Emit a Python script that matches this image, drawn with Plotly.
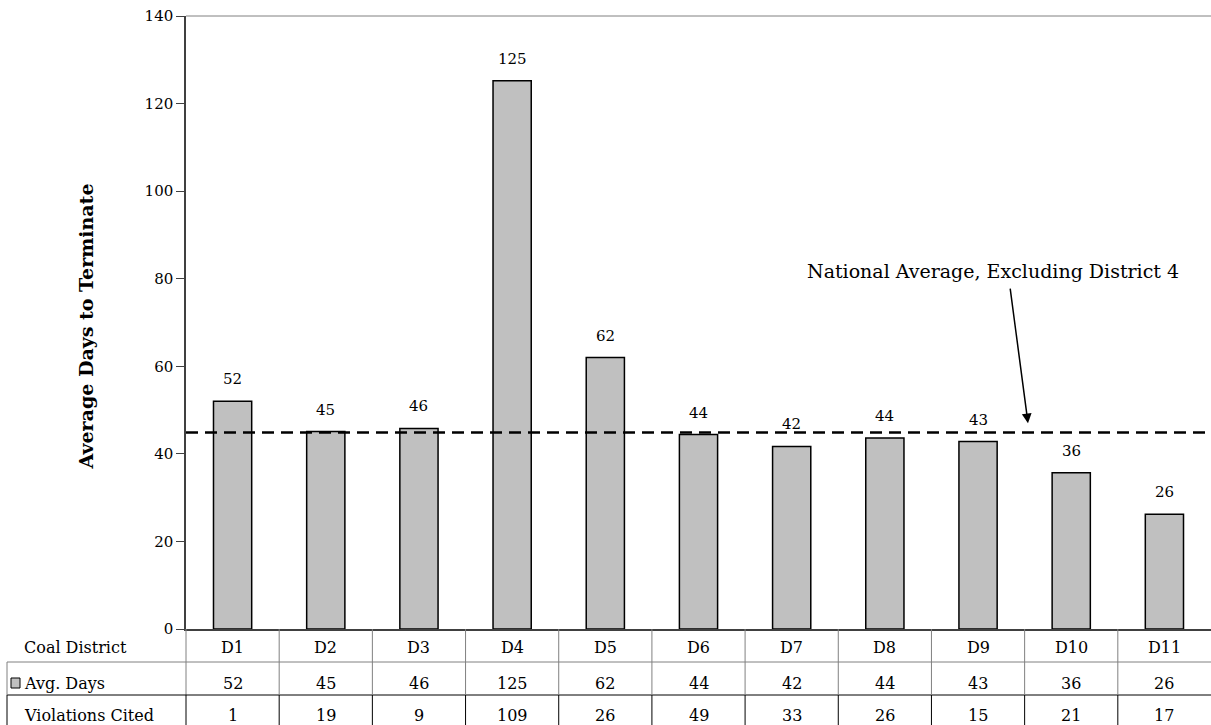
import plotly.graph_objects as go

# ---- data ----
districts = ["D1", "D2", "D3", "D4", "D5", "D6", "D7", "D8", "D9", "D10", "D11"]
avg_days = [52.0, 45.1, 45.8, 125.2, 62.0, 44.4, 41.7, 43.6, 42.8, 35.7, 26.2]
violations_cited = [1, 19, 9, 109, 26, 49, 33, 26, 15, 21, 17]
national_avg_excl_d4 = 44.9
y_ticks = [0, 20, 40, 60, 80, 100, 120, 140]

FONT = "DejaVu Serif"
BAR_COLOR = "#C0C0C0"
GRID_GREY = "#808080"

# layout geometry (pixels)
ML, MR, MT, MB = 186, 0, 16, 96
W_FIG, H_FIG = 1211, 725
PW = W_FIG - ML - MR
PH = H_FIG - MT - MB


def pyb(px_below):
    """paper y for a pixel offset below the plot bottom"""
    return -px_below / PH


def pxl(px_x):
    """paper x for an absolute pixel x"""
    return (px_x - ML) / PW


fig = go.Figure()
fig.add_trace(go.Bar(
    x=districts, y=avg_days,
    marker=dict(color=BAR_COLOR, line=dict(color="black", width=1.5)),
    width=0.41, hoverinfo="x+y", showlegend=False,
))

shapes = []
annotations = []

# top border of plot area
shapes.append(dict(type="line", xref="paper", yref="paper", x0=0, x1=1, y0=1, y1=1,
                   line=dict(color=GRID_GREY, width=1)))
# national average dashed line
shapes.append(dict(type="line", xref="paper", yref="y", x0=0, x1=1,
                   y0=national_avg_excl_d4, y1=national_avg_excl_d4,
                   line=dict(color="black", width=2.5, dash="12px,7px")))
# y-axis extended into table
shapes.append(dict(type="line", xref="paper", yref="paper", x0=0, x1=0, y0=0, y1=pyb(66),
                   line=dict(color=GRID_GREY, width=1)))
shapes.append(dict(type="line", xref="paper", yref="paper", x0=0, x1=0, y0=pyb(66), y1=pyb(110),
                   line=dict(color="black", width=1)))
# table horizontal lines
shapes.append(dict(type="line", xref="paper", yref="paper", x0=pxl(7), x1=1, y0=pyb(33), y1=pyb(33),
                   line=dict(color=GRID_GREY, width=1)))
shapes.append(dict(type="line", xref="paper", yref="paper", x0=pxl(7), x1=1, y0=pyb(66), y1=pyb(66),
                   line=dict(color="black", width=1)))
# table left border
shapes.append(dict(type="line", xref="paper", yref="paper", x0=pxl(7), x1=pxl(7), y0=pyb(33), y1=pyb(66),
                   line=dict(color=GRID_GREY, width=1)))
shapes.append(dict(type="line", xref="paper", yref="paper", x0=pxl(7), x1=pxl(7), y0=pyb(66), y1=pyb(110),
                   line=dict(color="black", width=1)))
# column separators
for i in range(len(districts) - 1):
    xs = i + 0.5
    shapes.append(dict(type="line", xref="x", yref="paper", x0=xs, x1=xs, y0=0, y1=pyb(66),
                       line=dict(color=GRID_GREY, width=1)))
    shapes.append(dict(type="line", xref="x", yref="paper", x0=xs, x1=xs, y0=pyb(66), y1=pyb(110),
                       line=dict(color="black", width=1)))
# legend key square
shapes.append(dict(type="rect", xref="paper", yref="paper", x0=pxl(11), x1=pxl(20),
                   y0=pyb(49), y1=pyb(59), fillcolor=BAR_COLOR, line=dict(color="black", width=1)))

# bar value labels
for d, v in zip(districts, avg_days):
    annotations.append(dict(x=d, y=v, xref="x", yref="y", text=str(round(v)), showarrow=False,
                            yanchor="middle", yshift=22, font=dict(family=FONT, size=15, color="black")))

# table row labels
row_font = dict(family=FONT, size=16, color="black")
annotations.append(dict(x=pxl(22), y=pyb(18), xref="paper", yref="paper", text="Coal District",
                        showarrow=False, xanchor="left", yanchor="middle", font=row_font))
annotations.append(dict(x=pxl(22), y=pyb(54), xref="paper", yref="paper", text="Avg. Days",
                        showarrow=False, xanchor="left", yanchor="middle", font=row_font))
annotations.append(dict(x=pxl(22), y=pyb(86), xref="paper", yref="paper", text="Violations Cited",
                        showarrow=False, xanchor="left", yanchor="middle", font=row_font))
# table cells
for d, v, vc in zip(districts, avg_days, violations_cited):
    annotations.append(dict(x=d, y=pyb(18), xref="x", yref="paper", text=d, showarrow=False,
                            yanchor="middle", font=row_font))
    annotations.append(dict(x=d, y=pyb(54), xref="x", yref="paper", text=str(round(v)), showarrow=False,
                            yanchor="middle", font=row_font))
    annotations.append(dict(x=d, y=pyb(86), xref="x", yref="paper", text=str(vc), showarrow=False,
                            yanchor="middle", font=row_font))

# y axis title
annotations.append(dict(x=pxl(85), y=0.5, xref="paper", yref="paper", text="<b>Average Days to Terminate</b>",
                        showarrow=False, textangle=-90, xanchor="center", yanchor="middle", yshift=-4,
                        font=dict(family=FONT, size=19, color="black")))

# national average callout
annotations.append(dict(x=pxl(993), y=81.7, xref="paper", yref="y",
                        text="National Average, Excluding District 4", showarrow=False,
                        xanchor="center", yanchor="middle", font=dict(family=FONT, size=19, color="black")))
annotations.append(dict(x=pxl(1028), y=47.0, xref="paper", yref="y", text="", showarrow=True,
                        ax=-18, ay=-136, arrowhead=2, arrowsize=1.3, arrowwidth=1.5, arrowcolor="black"))

fig.update_layout(
    width=W_FIG, height=H_FIG,
    margin=dict(l=ML, r=MR, t=MT, b=MB, pad=0),
    paper_bgcolor="white", plot_bgcolor="white",
    font=dict(family=FONT, size=14, color="black"),
    bargap=0.59,
    shapes=shapes, annotations=annotations,
    xaxis=dict(range=[-0.5, len(districts) - 0.5], showticklabels=False, ticks="",
               showline=True, linecolor="#404040", linewidth=1.5, showgrid=False, zeroline=False,
               fixedrange=True),
    yaxis=dict(range=[0, 140], tickvals=y_ticks, ticks="outside", ticklen=8, tickwidth=1,
               tickcolor="#404040", showline=True, linecolor="#404040", linewidth=1.5,
               showgrid=False, zeroline=False, tickfont=dict(family=FONT, size=15, color="black"),
               fixedrange=True),
)

fig.write_html("out.html", config={"displayModeBar": False},
               post_script="document.body.style.margin='0';document.body.style.padding='0';")
